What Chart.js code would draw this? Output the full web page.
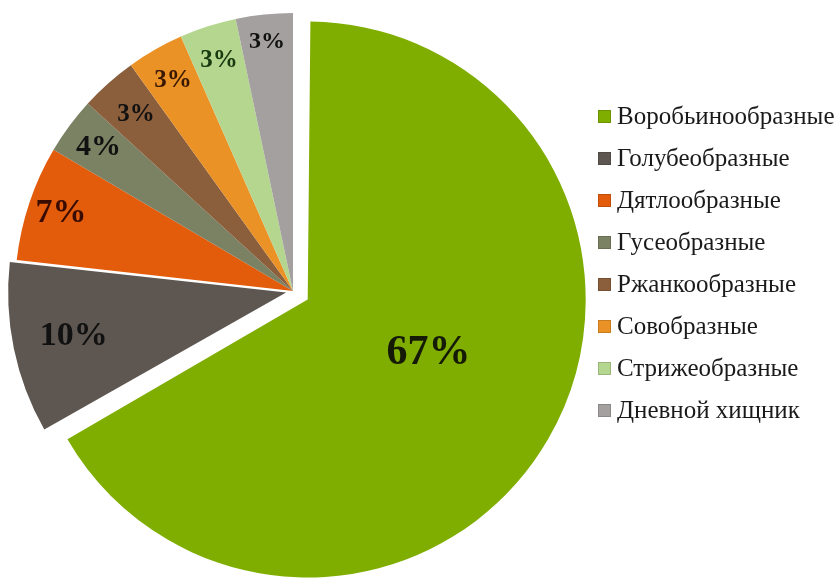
<!DOCTYPE html>
<html>
<head>
<meta charset="utf-8">
<script src="https://cdn.jsdelivr.net/npm/chart.js@4"></script>
<style>
  body { margin: 0; background: #fff; }
  #wrap { position: relative; width: 840px; height: 578px; }
  #legend { position: absolute; left: 598px; top: 95px; font-family: 'Liberation Serif', serif; font-size: 25px; color: #1a1a1a; }
  .item { height: 42px; display: flex; align-items: center; white-space: nowrap; }
  .box { width: 13px; height: 13px; margin-right: 6px; box-sizing: border-box; border: 1px solid rgba(0,0,0,0.15); }
</style>
</head>
<body>
<div id="wrap">
  <canvas id="birdsChart" width="840" height="578"></canvas>
  <div id="legend"></div>
</div>
<script>
const orders = ['Воробьинообразные', 'Голубеобразные', 'Дятлообразные', 'Гусеобразные',
                'Ржанкообразные', 'Совобразные', 'Стрижеобразные', 'Дневной хищник'];
const shares = [66.7, 10, 6.7, 3.3, 3.3, 3.3, 3.3, 3.3];
const percentLabels = ['67%', '10%', '7%', '4%', '3%', '3%', '3%', '3%'];

// Styles
const colors = ['#7fae00', '#5e5751', '#e25c0c', '#7b8163', '#8b5e3c', '#eb9226', '#b5d68f', '#a3a09f'];
const offsets = [68, 28, 0, 0, 0, 0, 0, 0];
const labelFontSizes = [42, 34, 34, 30, 25, 25, 25, 24];
const labelColors = ['#141a05', '#111111', '#3a0c00', '#111111', '#111111', '#3a1800', '#173a10', '#111111'];
const labelRadius = [0.475, 0.78, 0.88, 0.87, 0.85, 0.87, 0.87, 0.9];
const labelAngle = [0.474, 0.5, 0.5, 0.5, 0.5, 0.5, 0.5, 0.5]; // where inside the slice, 0..1

// Chart.js grows exploded slices by their offset; pull them back so all slices keep one radius
const keepRadius = {
    id: 'keepRadius',
    beforeDatasetsDraw(chart) {
        const meta = chart.getDatasetMeta(0);
        const base = meta.controller.outerRadius;
        meta.data.forEach(arc => {
            const shift = (arc.options.offset || 0) / 4;
            const fix = 1 - Math.sin(Math.min(Math.PI, arc.circumference));
            arc.outerRadius = base - shift * fix;
        });
    }
};

// Percent labels drawn on the slices
const sliceLabels = {
    id: 'sliceLabels',
    afterDatasetsDraw(chart) {
        const ctx = chart.ctx;
        const meta = chart.getDatasetMeta(0);
        const base = meta.controller.outerRadius;
        ctx.save();
        ctx.textAlign = 'center';
        ctx.textBaseline = 'middle';
        meta.data.forEach((arc, i) => {
            const mid = (arc.startAngle + arc.endAngle) / 2;
            const a = arc.startAngle + (arc.endAngle - arc.startAngle) * labelAngle[i];
            const shift = (arc.options.offset || 0) / 4;
            const r = base * labelRadius[i];
            ctx.font = 'bold ' + labelFontSizes[i] + 'px "Liberation Serif", serif';
            ctx.fillStyle = labelColors[i];
            ctx.fillText(percentLabels[i],
                arc.x + Math.cos(mid) * shift + Math.cos(a) * r,
                arc.y + Math.sin(mid) * shift + Math.sin(a) * r);
        });
        ctx.restore();
    }
};

const ctx = document.getElementById('birdsChart').getContext('2d');
const birdsChart = new Chart(ctx, {
    type: 'pie',
    data: {
        labels: orders,
        datasets: [{
            data: shares,
            backgroundColor: colors,
            borderWidth: 0,
            offset: offsets,
            radius: 278
        }]
    },
    options: {
        responsive: false,
        animation: false,
        layout: { padding: { left: 0, right: 254, top: 4, bottom: 0 } },
        plugins: {
            legend: { display: false },
            tooltip: { enabled: false }
        }
    },
    plugins: [keepRadius, sliceLabels]
});

// Legend
const legend = document.getElementById('legend');
orders.forEach((name, i) => {
    const row = document.createElement('div');
    row.className = 'item';
    const box = document.createElement('span');
    box.className = 'box';
    box.style.background = colors[i];
    const text = document.createElement('span');
    text.textContent = name;
    row.appendChild(box);
    row.appendChild(text);
    legend.appendChild(row);
});
</script>
</body>
</html>
